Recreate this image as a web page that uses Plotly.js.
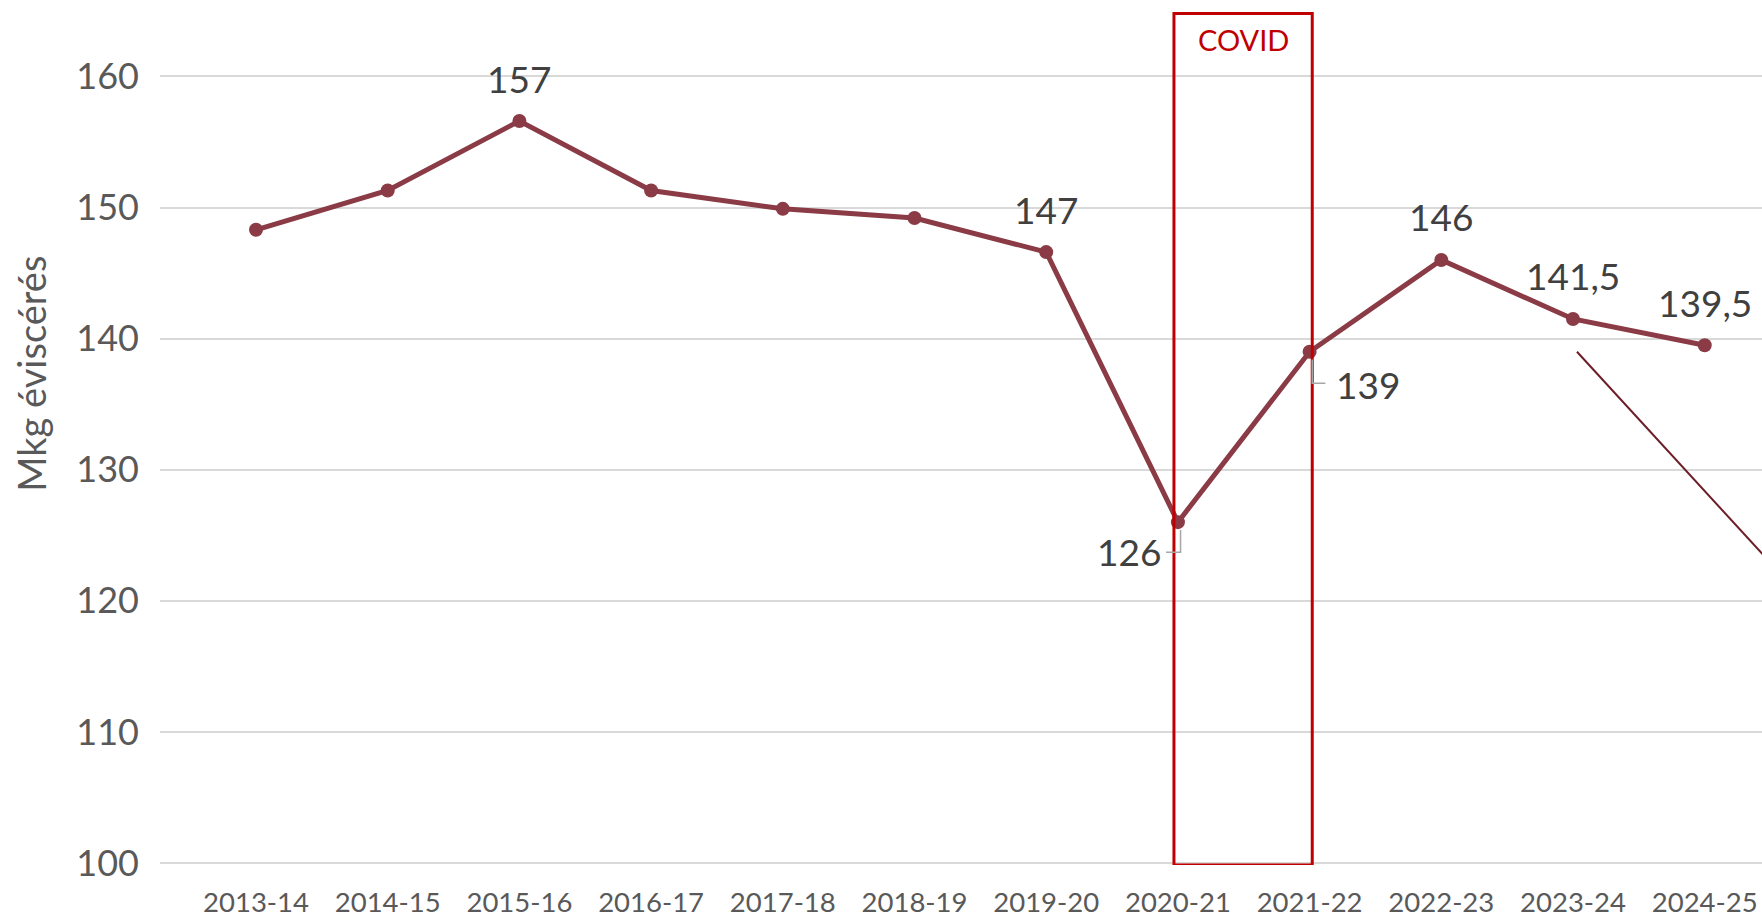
<!DOCTYPE html>
<html>
<head>
<meta charset="utf-8">
<script src="https://cdn.plot.ly/plotly-3.0.1.min.js"></script>
<style>
  html, body { margin: 0; padding: 0; background: #ffffff; }
  #chart { width: 1762px; height: 917px; }
</style>
</head>
<body>
<div id="chart"></div>
<script>
// ---- data ----
const seasons = ['2013-14','2014-15','2015-16','2016-17','2017-18','2018-19','2019-20','2020-21','2021-22','2022-23','2023-24','2024-25'];
const values  = [148.3, 151.3, 156.6, 151.3, 149.9, 149.2, 146.6, 126.0, 139.0, 146.0, 141.5, 139.5];
const labels  = ['', '', '157', '', '', '', '147', '126', '139', '146', '141,5', '139,5'];
const yTicks  = [100, 110, 120, 130, 140, 150, 160];
const yTitle  = 'Mkg éviscérés';
const covidText = 'COVID';

const FONT = 'Lato, "Open Sans", sans-serif';
const idx = seasons.map((s, i) => i);

const trace = {
  x: idx,
  y: values,
  type: 'scatter',
  mode: 'lines+markers',
  line: { color: '#8A3B45', width: 5 },
  marker: { color: '#8A3B45', size: 14 },
  hoverinfo: 'x+y',
  cliponaxis: false
};

// label offsets (style only)
const offsets = {
  '2020-21': { ax: -49, ay: 29 },
  '2021-22': { ax: 58, ay: 33 }
};

const annotations = [];
labels.forEach((t, i) => {
  if (!t) return;
  const o = offsets[seasons[i]] || { ax: 0, ay: -43 };
  annotations.push({
    x: idx[i], y: values[i], xref: 'x', yref: 'y',
    text: t, showarrow: false,
    xshift: o.ax, yshift: -o.ay,
    font: { family: FONT, size: 37, color: '#404040' }
  });
});

// COVID label
annotations.push({
  x: 7.5, y: 162.78, xref: 'x', yref: 'y',
  text: covidText, showarrow: false,
  font: { family: FONT, size: 29, color: '#C00000' }
});

// y-axis title as rotated annotation
annotations.push({
  x: -0.0805, y: 0.568, xref: 'paper', yref: 'paper',
  text: yTitle, showarrow: false, textangle: -90,
  xanchor: 'center', yanchor: 'middle',
  font: { family: FONT, size: 38, color: '#595959' }
});

const shapes = [
  // COVID box
  { type: 'rect', xref: 'x', yref: 'y', x0: 6.97, x1: 8.02, y0: 99.85, y1: 164.8,
    line: { color: '#C00000', width: 3 }, fillcolor: 'rgba(0,0,0,0)', layer: 'above' },
  // trend guide line
  { type: 'line', xref: 'x', yref: 'y', x0: 10.03, y0: 139.0, x1: 11.6, y1: 121.8,
    line: { color: '#6B1E28', width: 2 } },
  // leader lines
  { type: 'path', xref: 'x', yref: 'y', path: 'M 7.02 125.4 L 7.02 123.7 L 6.91 123.7',
    line: { color: '#A6A6A6', width: 1.5 } },
  { type: 'path', xref: 'x', yref: 'y', path: 'M 8.02 138.4 L 8.02 136.6 L 8.12 136.6',
    line: { color: '#A6A6A6', width: 1.5 } }
];

const layout = {
  width: 1762, height: 917,
  margin: { l: 160, r: 0, t: 0, b: 52, pad: 0 },
  paper_bgcolor: '#ffffff',
  plot_bgcolor: '#ffffff',
  showlegend: false,
  xaxis: {
    range: [-0.729, 11.435],
    tickmode: 'array', tickvals: idx, ticktext: seasons,
    showgrid: false, zeroline: false, showline: false,
    ticks: '', ticklabelstandoff: 18,
    tickfont: { family: FONT, size: 27.5, color: '#595959' },
    fixedrange: true
  },
  yaxis: {
    range: [99.85, 165.83],
    tickmode: 'array', tickvals: yTicks, ticktext: yTicks.map(String),
    showgrid: true, gridcolor: '#D9D9D9', gridwidth: 2,
    zeroline: false, showline: false,
    ticks: '', ticklabelstandoff: 20,
    tickfont: { family: FONT, size: 36, color: '#595959' },
    fixedrange: true
  },
  annotations: annotations,
  shapes: shapes
};

Plotly.newPlot('chart', [trace], layout, { displayModeBar: false, staticPlot: true });
</script>
</body>
</html>
